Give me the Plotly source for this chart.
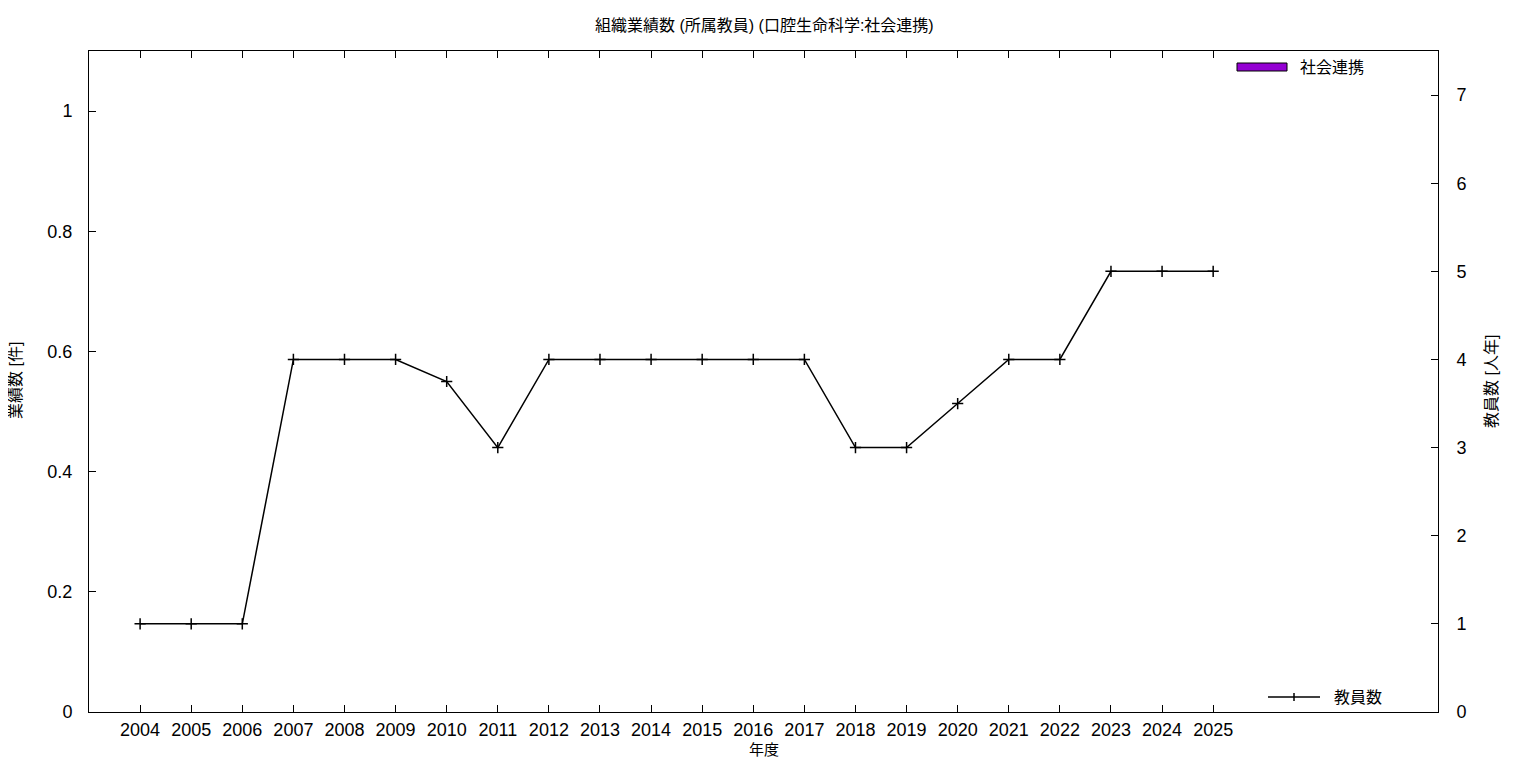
import plotly.graph_objects as go

# ---- data ----
years = [2004, 2005, 2006, 2007, 2008, 2009, 2010, 2011, 2012, 2013, 2014,
         2015, 2016, 2017, 2018, 2019, 2020, 2021, 2022, 2023, 2024, 2025]
staff = [1, 1, 1, 4, 4, 4, 3.75, 3, 4, 4, 4, 4, 4, 4, 3, 3, 3.5, 4, 4, 5, 5, 5]
outreach = [0] * len(years)  # 社会連携 (no records)

left_ticks = [0, 0.2, 0.4, 0.6, 0.8, 1]
left_labels = ["0", "0.2", "0.4", "0.6", "0.8", "1"]
right_ticks = [0, 1, 2, 3, 4, 5, 6, 7]

title = "組織業績数 (所属教員) (口腔生命科学:社会連携)"
bar_name = "社会連携"
line_name = "教員数"

FONT = "Liberation Sans, Noto Sans CJK JP, sans-serif"

# page offset (default body margin) and plot area in screen pixels
OFF = 8
L, R, T, B = 89, 1438, 51, 712
W, H = 1536 - 2 * OFF, 768 - 2 * OFF
pw, ph = R - L, B - T


def px(x):
    return (x - L) / pw


def py(y):
    return (B - y) / ph


fig = go.Figure()
fig.add_trace(go.Bar(x=years, y=outreach, name=bar_name, marker_color="#9400D3",
                     marker_line=dict(width=0), yaxis="y",
                     showlegend=False, width=0.6))
fig.add_trace(go.Scatter(x=years, y=staff, name=line_name, mode="lines+markers",
                         line=dict(color="black", width=1.5),
                         marker=dict(symbol="cross-thin", size=8,
                                     line=dict(color="black", width=1.5)),
                         yaxis="y2", showlegend=False))

axis_common = dict(showline=True, linecolor="black", linewidth=1,
                   ticks="inside", ticklen=7, tickcolor="black",
                   showgrid=False, zeroline=False,
                   tickfont=dict(family=FONT, size=18, color="black"))

fig.update_layout(
    width=W, height=H,
    margin=dict(l=L - OFF, r=W - (R - OFF), t=T - OFF, b=H - (B - OFF)),
    plot_bgcolor="white", paper_bgcolor="white",
    font=dict(family=FONT, color="black"),
    xaxis=dict(range=[2003, 2029.4], tickvals=years,
               ticktext=[str(y) for y in years], mirror="ticks",
               ticklabelstandoff=1, **axis_common),
    yaxis=dict(range=[0, 1.1], tickvals=left_ticks, ticktext=left_labels,
               ticklabelstandoff=12, **axis_common),
    yaxis2=dict(range=[0, 7.5], tickvals=right_ticks, overlaying="y",
                side="right", ticklabelstandoff=14, **axis_common),
    showlegend=False,
)


def label(text, x, y, angle=0, anchor="center", size=16):
    return dict(text=text, x=px(x), y=py(y), xref="paper", yref="paper",
                xanchor=anchor, yanchor="middle", textangle=angle, showarrow=False,
                font=dict(family=FONT, size=size, color="black"))


ann = [
    label(title, 764, 25),
    label("年度", 764, 750, size=15),
    label("業績数 [件]", 15, 381, angle=-90),
    label("教員数 [人年]", 1491, 381, angle=-90),
    label(bar_name, 1298, 67, anchor="left"),
    label(line_name, 1332, 697, anchor="left"),
]

shapes = [
    dict(type="rect", xref="paper", yref="paper", x0=px(1237), x1=px(1287),
         y0=py(71), y1=py(63), fillcolor="#9400D3", line=dict(color="black", width=1)),
    dict(type="line", xref="paper", yref="paper", x0=px(1268), x1=px(1320),
         y0=py(697), y1=py(697), line=dict(color="black", width=1.5)),
    dict(type="line", xref="paper", yref="paper", x0=px(1294), x1=px(1294),
         y0=py(693), y1=py(701), line=dict(color="black", width=1.5)),
]

fig.update_layout(annotations=ann, shapes=shapes)
fig.write_html("out.html")
